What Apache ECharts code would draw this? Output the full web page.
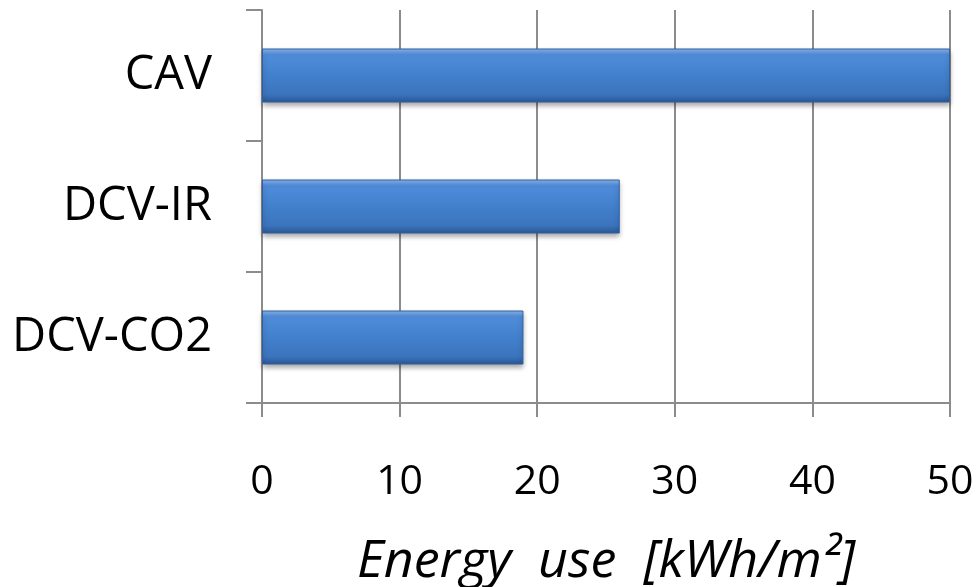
<!DOCTYPE html>
<html><head><meta charset="utf-8">
<script src="https://cdn.jsdelivr.net/npm/echarts@6/dist/echarts.min.js"></script>
<style>html,body{margin:0;padding:0;background:#fff}#c{width:977px;height:587px}</style>
</head><body><div id="c"></div>
<script>
const categories = ['CAV', 'DCV-IR', 'DCV-CO2'];
const values = [50, 26, 19];
const xTicks = [0, 10, 20, 30, 40, 50];
const axisName = 'Energy  use  [kWh/m²]';

const chart = echarts.init(document.getElementById('c'));
const gray = '#8c8c8c';
chart.setOption({
  animation: false,
  grid: { left: 262, right: 27, top: 10, bottom: 184, containLabel: false, outerBoundsMode: 'none' },
  xAxis: {
    type: 'value', min: xTicks[0], max: xTicks[xTicks.length - 1], interval: 10,
    axisLine: { show: true, lineStyle: { color: gray, width: 2 } },
    axisTick: { show: true, length: 14, lineStyle: { color: gray, width: 2 } },
    splitLine: { show: true, lineStyle: { color: gray, width: 2 } },
    axisLabel: { color: '#000', fontSize: 41, fontFamily: 'Open Sans', margin: 59 },
    name: axisName, nameLocation: 'middle', nameGap: 133,
    nameTextStyle: { color: '#000', fontSize: 52, fontStyle: 'italic', fontFamily: 'Open Sans' }
  },
  yAxis: {
    type: 'category', data: categories, inverse: true,
    axisLine: { show: true, lineStyle: { color: gray, width: 2 } },
    axisTick: { show: true, length: 16, lineStyle: { color: gray, width: 2 } },
    axisLabel: { color: '#000', fontSize: 47, fontFamily: 'Open Sans', margin: 50 }
  },
  series: [{
    type: 'bar', data: values, barWidth: 54,
    itemStyle: {
      color: new echarts.graphic.LinearGradient(0, 0, 0, 1, [
        { offset: 0, color: '#8cbaf2' },
        { offset: 0.12, color: '#4f8cda' },
        { offset: 0.5, color: '#4280cc' },
        { offset: 0.85, color: '#3b74bd' },
        { offset: 1, color: '#2a5694' }
      ]),
      borderColor: '#2f5f9e', borderWidth: 1,
      shadowColor: 'rgba(0,0,0,0.35)', shadowBlur: 5, shadowOffsetY: 3
    }
  }]
});
</script></body></html>
